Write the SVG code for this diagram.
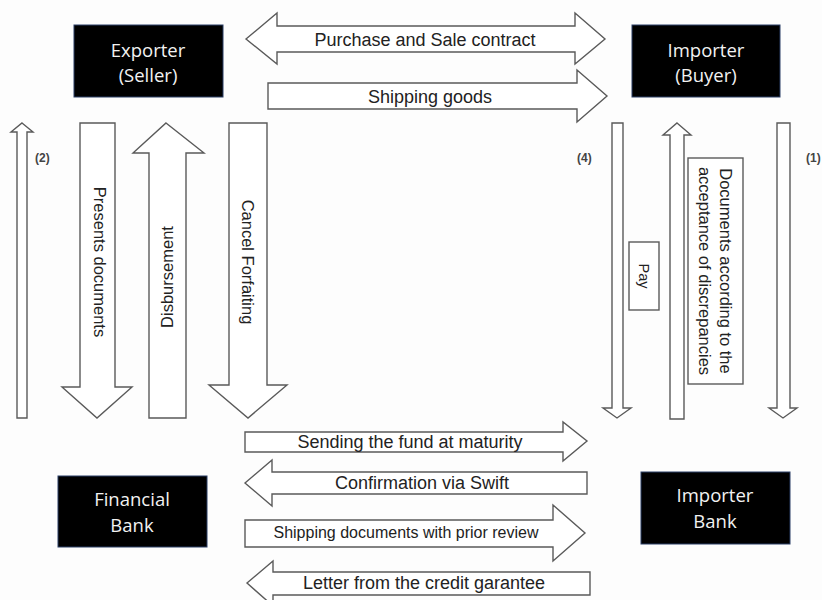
<svg xmlns="http://www.w3.org/2000/svg" width="822" height="600" viewBox="0 0 822 600">
  <style>
    .box { fill: #000; stroke: #2b3f66; stroke-width: 1; }
    .ntext { font-family: "Open Sans", "Liberation Sans", sans-serif; font-size: 18.5px; fill: #f2f2f2; text-anchor: middle; }
    .arrow { fill: #fff; stroke: #5a5a5a; stroke-width: 1.4; stroke-linejoin: miter; }
    .label { font-family: "Liberation Sans", Arial, sans-serif; font-size: 18px; fill: #222; text-anchor: middle; }
    .vlabel { font-family: "Liberation Sans", Arial, sans-serif; font-size: 16.5px; fill: #222; text-anchor: middle; }
    .num { font-family: "Liberation Sans", Arial, sans-serif; font-size: 12px; font-weight: bold; fill: #444; }
    .tag { fill: #fff; stroke: #5a5a5a; stroke-width: 1.4; }
  </style>
  <rect width="822" height="600" fill="#fdfdfd"/>

  <!-- parties -->
  <g id="exporter">
    <rect class="box" x="74" y="25" width="149" height="72"/>
    <text class="ntext" x="148" y="57">Exporter</text>
    <text class="ntext" x="148" y="82">(Seller)</text>
  </g>
  <g id="importer">
    <rect class="box" x="632" y="25" width="148" height="72"/>
    <text class="ntext" x="706" y="57">Importer</text>
    <text class="ntext" x="706" y="82">(Buyer)</text>
  </g>
  <g id="financial-bank">
    <rect class="box" x="58" y="476" width="149" height="71"/>
    <text class="ntext" x="132" y="506">Financial</text>
    <text class="ntext" x="132" y="532">Bank</text>
  </g>
  <g id="importer-bank">
    <rect class="box" x="641" y="472" width="149" height="72"/>
    <text class="ntext" x="715" y="502">Importer</text>
    <text class="ntext" x="715" y="528">Bank</text>
  </g>

  <!-- block-arrow connectors -->
  <g id="connectors">
    <!-- top: exporter <-> importer -->
    <polygon class="arrow" points="246,39 277,13 277,26 575,26 575,13 605,39 575,64 575,52 277,52 277,64"/>
    <text class="label" x="425" y="46">Purchase and Sale contract</text>
    <polygon class="arrow" points="268,83 577,83 577,70 607,96 577,122 577,109 268,109"/>
    <text class="label" x="430" y="103">Shipping goods</text>

    <!-- left column: exporter <-> financial bank -->
    <polygon class="arrow" points="22,123 33,132 27,132 27,418 17,418 17,132 11,132"/>
    <text class="num" x="35" y="162">(2)</text>
    <polygon class="arrow" points="80,123 115,123 115,387 132,387 97,418 62,387 80,387"/>
    <text class="vlabel" transform="translate(94,262) rotate(90)">Presents documents</text>
    <polygon class="arrow" points="166,123 204,153 186,153 186,418 149,418 149,153 133,153"/>
    <text class="vlabel" transform="translate(173,277) rotate(-90)">Disbursement</text>
    <polygon class="arrow" points="229,123 267,123 267,385 287,385 248,418 209,385 229,385"/>
    <text class="vlabel" transform="translate(242,262) rotate(90)">Cancel Forfaiting</text>

    <!-- right column: importer <-> importer bank -->
    <polygon class="arrow" points="612,123 623,123 623,408 631,408 617,418 603,408 612,408"/>
    <text class="num" x="577" y="162">(4)</text>
    <rect class="tag" x="629" y="242" width="30" height="68"/>
    <text class="vlabel" style="font-size:14.5px" transform="translate(639,276) rotate(90)">Pay</text>
    <polygon class="arrow" points="677,123 691,135 684,135 684,419 670,419 670,135 663,135"/>
    <rect class="tag" x="688" y="158" width="55" height="226"/>
    <text class="vlabel" transform="translate(720,271) rotate(90)">Documents according to the</text>
    <text class="vlabel" transform="translate(699,271) rotate(90)">acceptance of discrepancies</text>
    <polygon class="arrow" points="777,123 790,123 790,408 797,408 783,418 769,408 777,408"/>
    <text class="num" x="806" y="162">(1)</text>

    <!-- bottom: financial bank <-> importer bank -->
    <polygon class="arrow" points="245,432 563,432 563,422 587,441 563,461 563,452 245,452"/>
    <text class="label" x="410" y="448">Sending the fund at maturity</text>
    <polygon class="arrow" points="245,483 272,460 272,472 587,472 587,494 272,494 272,506"/>
    <text class="label" x="422" y="489">Confirmation via Swift</text>
    <polygon class="arrow" points="245,520 553,520 553,505 585,533 553,561 553,547 245,547"/>
    <text class="label" style="font-size:16px" x="406" y="538">Shipping documents with prior review</text>
    <polygon class="arrow" points="247,583 273,561 273,572 590,572 590,595 273,595 273,606"/>
    <text class="label" x="424" y="589">Letter from the credit garantee</text>
  </g>
</svg>
